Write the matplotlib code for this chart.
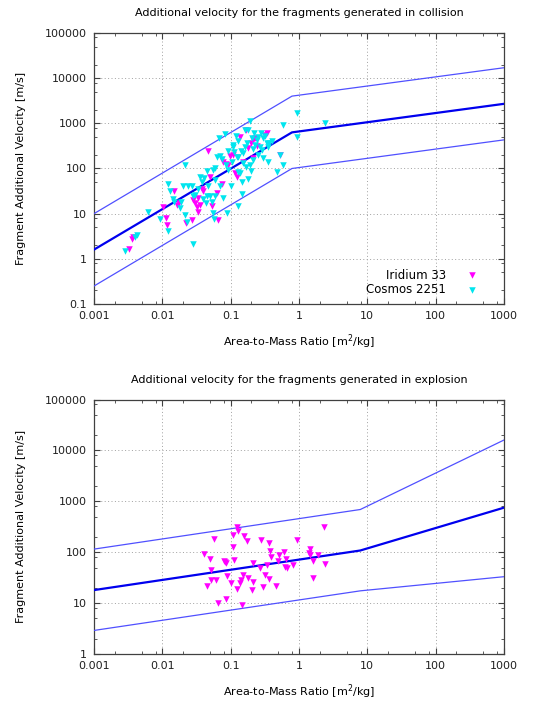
import matplotlib
matplotlib.use("Agg")
import matplotlib.pyplot as plt
import matplotlib.ticker as ticker

plt.rcParams['font.family'] = ['DejaVu Sans']
plt.rcParams['font.size'] = 8

# envelope lines (mean and +/- 2 sigma)
col_x = [0.001, 0.79, 1000]
col_upper = [10, 4000, 17000]
col_mid = [1.6, 630, 2700]
col_lower = [0.25, 100, 430]

exp_x = [0.001, 7.9, 1000]
exp_upper = [115, 690, 16000]
exp_mid = [18, 108, 750]
exp_lower = [2.9, 17.4, 33]

# collision fragments: Iridium 33
iri_x = [0.0033, 0.0036, 0.0037, 0.0103, 0.0113, 0.0118, 0.015, 0.0162, 0.0177, 0.0222,
         0.0268, 0.0284, 0.0301, 0.0318, 0.0336, 0.0336, 0.0356, 0.0377, 0.0398, 0.0471,
         0.0499, 0.0527, 0.0624, 0.0646, 0.0738, 0.0781, 0.0845, 0.0924, 0.0977, 0.116,
         0.122, 0.153, 0.168, 0.181, 0.196, 0.215, 0.227, 0.24, 0.318, 0.336,
         0.527, 0.215, 0.137, 0.109]
iri_y = [1.64, 2.8, 3.0, 14.3, 7.9, 5.6, 32, 15.5, 16.9, 6.3,
         7.2, 20, 16.9, 14.3, 11, 22, 15.5, 35, 31, 249,
         66, 15, 28, 7.2, 46, 142, 126, 120, 190, 78,
         66, 142, 715, 281, 375, 430, 468, 316, 554, 603,
         200, 168, 509, 200]

# collision fragments: Cosmos 2251
cos_x = [0.0028, 0.0040, 0.0042, 0.0062, 0.0092, 0.012, 0.0123, 0.0129, 0.0148, 0.0217,
         0.0199, 0.0215, 0.0227, 0.0268, 0.0284, 0.0356, 0.0377, 0.0412, 0.0446, 0.0471,
         0.0436, 0.0499, 0.0527, 0.0545, 0.0577, 0.0557, 0.059, 0.0624, 0.0698, 0.0683,
         0.0826, 0.0874, 0.0924, 0.1035, 0.109, 0.112, 0.12, 0.122, 0.129, 0.137,
         0.145, 0.15, 0.153, 0.162, 0.171, 0.181, 0.192, 0.203, 0.215, 0.227,
         0.24, 0.254, 0.269, 0.284, 0.301, 0.318, 0.336, 0.356, 0.368, 0.398,
         0.471, 0.527, 0.577, 0.59, 0.924, 0.946, 2.4, 0.129, 0.148, 0.192,
         0.215, 0.078, 0.07, 0.059, 0.04, 0.030, 0.024, 0.028, 0.018, 0.0145,
         0.019, 0.075, 0.09, 0.11, 0.13, 0.14, 0.17, 0.2, 0.25, 0.3,
         0.35, 0.18, 0.1, 0.085, 0.06, 0.045, 0.033, 0.16, 0.22, 0.13, 0.28]
cos_y = [1.5, 3.0, 3.4, 10.7, 7.6, 4.1, 45, 31, 18.4, 120,
         40, 9.3, 6.6, 40, 2.1, 66, 51, 61, 25, 40,
         16.9, 24, 18.4, 10.2, 7.5, 93, 101, 183, 190, 468,
         583, 10.2, 93, 142, 333, 237, 527, 183, 85, 78,
         51, 130, 217, 306, 362, 715, 1150, 468, 267, 333,
         430, 509, 306, 258, 468, 527, 362, 142, 362, 400,
         85, 200, 923, 120, 1675, 492, 1040, 14.8, 27, 120,
         155, 22, 40, 24, 21, 26, 40, 24, 13.1, 21,
         18.4, 160, 250, 300, 180, 250, 110, 90, 200, 170,
         300, 60, 40, 120, 55, 90, 35, 700, 600, 400, 620]

# explosion fragments
exp_px = [0.125, 0.129, 0.107, 0.157, 0.171, 0.057, 0.107, 0.275, 0.368, 0.924,
          2.32, 0.0407, 0.0499, 0.0798, 0.0855, 0.112, 0.215, 0.269, 0.344, 0.377,
          0.385, 0.515, 0.603, 0.499, 0.646, 0.624, 0.675, 0.826, 1.45, 1.45,
          1.88, 1.58, 2.4, 1.62, 0.051, 0.051, 0.061, 0.0456, 0.0874, 0.1,
          0.153, 0.137, 0.142, 0.177, 0.21, 0.125, 0.203, 0.294, 0.318, 0.368,
          0.46, 0.0855, 0.066, 0.148, 1.42, 0.083]
exp_py = [319, 259, 219, 206, 164, 180, 125, 175, 152, 175,
          319, 93, 74, 66, 61, 71, 62, 49, 57, 105,
          80, 87, 102, 66, 72, 52, 49, 56, 115, 87,
          90, 67, 59, 31, 45, 28, 29, 22, 34, 25,
          35, 25, 29, 31, 26, 19, 18, 21, 36, 30,
          22, 12, 10, 9, 96, 64]

xticks = [0.001, 0.01, 0.1, 1, 10, 100, 1000]
xtick_labels = ['0.001', '0.01', '0.1', '1', '10', '100', '1000']
yticks_top = [0.1, 1, 10, 100, 1000, 10000, 100000]
ytick_labels_top = ['0.1', '1', '10', '100', '1000', '10000', '100000']
yticks_bot = [1, 10, 100, 1000, 10000, 100000]
ytick_labels_bot = ['1', '10', '100', '1000', '10000', '100000']

magenta = '#ff00ff'
cyan = '#00e5ee'
mid_col = '#0000ee'
side_col = '#5050ff'


def style_axes(ax, yticks, ylabels, ylim):
    ax.set_xscale('log')
    ax.set_yscale('log')
    ax.set_xlim(0.001, 1000)
    ax.set_ylim(*ylim)
    ax.set_xticks(xticks)
    ax.set_xticklabels(xtick_labels)
    ax.set_yticks(yticks)
    ax.set_yticklabels(ylabels)
    ax.xaxis.set_minor_locator(ticker.LogLocator(base=10, subs=(2, 5, 8), numticks=20))
    ax.yaxis.set_minor_locator(ticker.LogLocator(base=10, subs=(2, 5, 8), numticks=20))
    ax.xaxis.set_minor_formatter(ticker.NullFormatter())
    ax.yaxis.set_minor_formatter(ticker.NullFormatter())
    ax.tick_params(which='both', direction='in', top=True, right=True, color='#404040')
    ax.tick_params(which='major', length=4, width=0.8, pad=5, labelcolor='#202020')
    ax.tick_params(which='minor', length=2.5, width=0.6)
    ax.grid(True, which='major', linestyle=(0, (1, 2.5)), color='#a0a0a0', linewidth=0.7)
    for s in ax.spines.values():
        s.set_color('#404040')
        s.set_linewidth(0.9)
    ax.set_xlabel(r'Area-to-Mass Ratio [m$^2$/kg]', labelpad=8)
    ax.set_ylabel('Fragment Additional Velocity [m/s]', labelpad=14)


fig = plt.figure(figsize=(5.35, 7.06), dpi=100)
ax1 = fig.add_axes([0.1757, 0.5694, 0.7663, 0.3839])
ax2 = fig.add_axes([0.1757, 0.0737, 0.7663, 0.3604])

# collision
ax1.plot(col_x, col_upper, color=side_col, lw=0.9, zorder=3)
ax1.plot(col_x, col_lower, color=side_col, lw=0.9, zorder=3)
ax1.plot(col_x, col_mid, color=mid_col, lw=1.6, zorder=3)
ax1.scatter(iri_x, iri_y, marker='v', s=22, color=magenta, linewidths=0, label='Iridium 33', zorder=4)
ax1.scatter(cos_x, cos_y, marker='v', s=22, color=cyan, linewidths=0, label='Cosmos 2251', zorder=4)
style_axes(ax1, yticks_top, ytick_labels_top, (0.1, 100000))
ax1.set_title('Additional velocity for the fragments generated in collision', pad=12, fontsize=8)
ax1.legend(loc='lower right', frameon=False, markerfirst=False, fontsize=8.5,
           handletextpad=1.2, borderaxespad=0.3, labelspacing=0.1, scatterpoints=1,
           bbox_to_anchor=(0.97, 0.0))

# explosion
ax2.plot(exp_x, exp_upper, color=side_col, lw=0.9, zorder=3)
ax2.plot(exp_x, exp_lower, color=side_col, lw=0.9, zorder=3)
ax2.plot(exp_x, exp_mid, color=mid_col, lw=1.6, zorder=3)
ax2.scatter(exp_px, exp_py, marker='v', s=22, color=magenta, linewidths=0, zorder=4)
style_axes(ax2, yticks_bot, ytick_labels_bot, (1, 100000))
ax2.set_title('Additional velocity for the fragments generated in explosion', pad=12, fontsize=8)

fig.savefig('out.png', dpi=100)
